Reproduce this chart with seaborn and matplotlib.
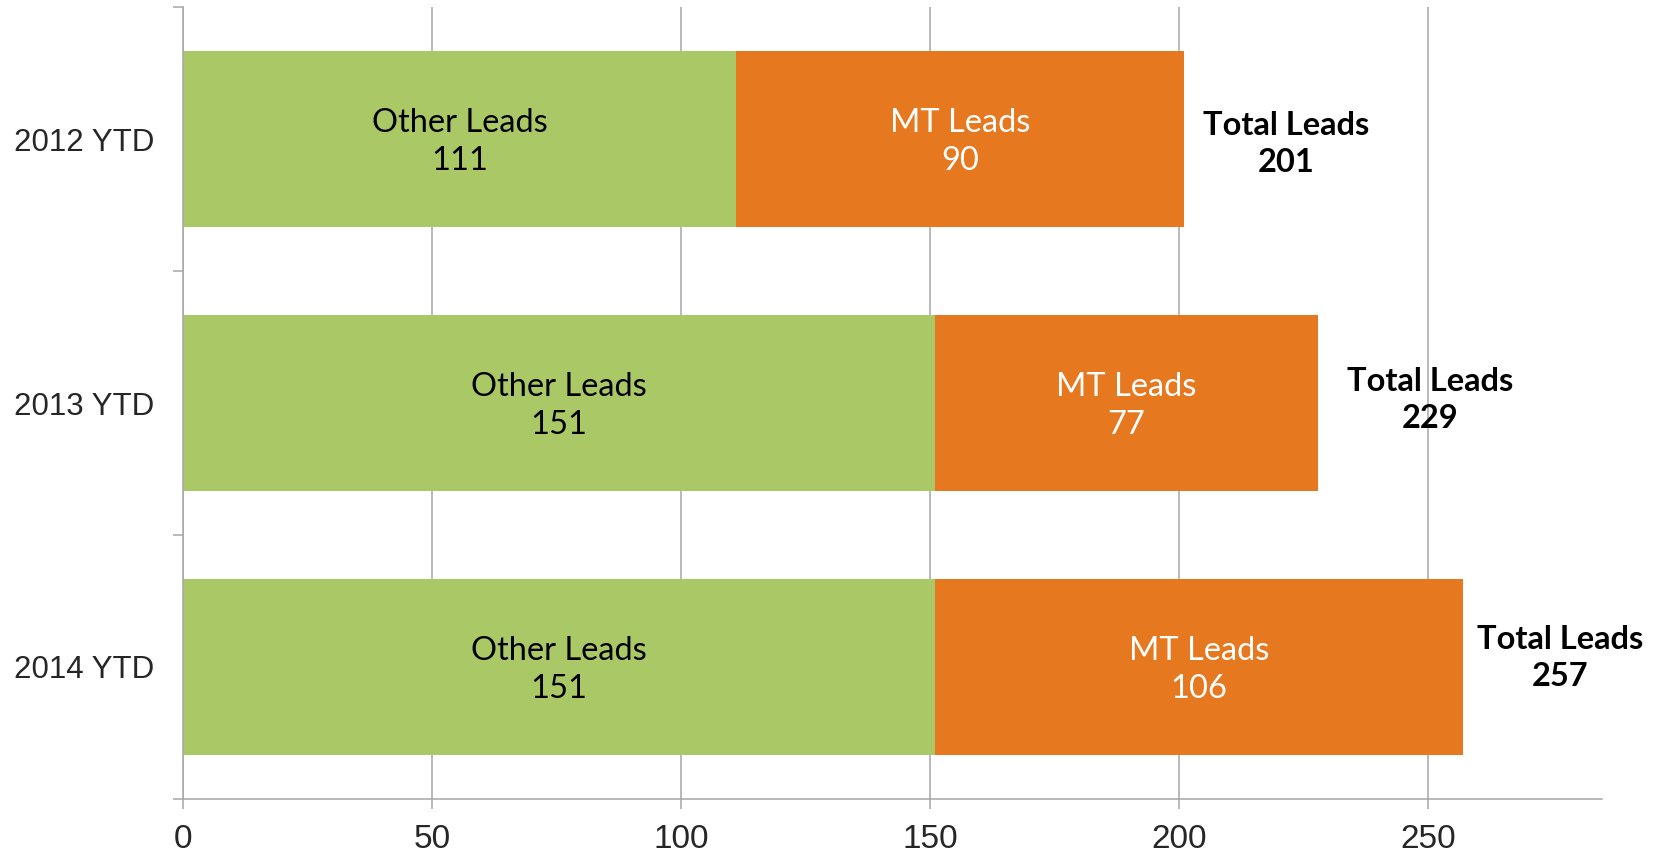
import matplotlib
matplotlib.use("Agg")
import matplotlib.pyplot as plt
import seaborn as sns
import pandas as pd
import numpy as np

# data
categories = ["2012 YTD", "2013 YTD", "2014 YTD"]
other_leads = [111, 151, 151]
mt_leads = [90, 77, 106]
total_leads = [201, 229, 257]  # as labelled in the source (rounded there)
x_ticks = [0, 50, 100, 150, 200, 250]

green = "#ABC866"
orange = "#E67820"
grid_gray = "#A6A6A6"

df = pd.DataFrame({"period": categories, "other": other_leads,
                   "mt": mt_leads, "total": total_leads})
df["stack"] = df["other"] + df["mt"]

sns.set_style("white")
plt.rcParams["font.family"] = ["Lato", "DejaVu Sans"]

fig = plt.figure(figsize=(16.61, 8.55), dpi=100)
ax = fig.add_axes([0.1103, 0.0655, 0.8542, 0.9263])

# stacked bars: full stack in orange, the "other" part on top in green
sns.barplot(data=df, x="stack", y="period", color=orange, saturation=1,
            width=0.667, orient="h", ax=ax, linewidth=0)
sns.barplot(data=df, x="other", y="period", color=green, saturation=1,
            width=0.667, orient="h", ax=ax, linewidth=0)

# the total labels sit a little unevenly in the original
total_dx = [20.5, 22.5, 19.5]
total_dy = [0.02, -0.01, -0.035]

for i, row in df.iterrows():
    ax.text(row["other"] / 2, i + 0.012, f"Other Leads\n{row['other']}",
            ha="center", va="center", fontsize=23.5, color="black",
            linespacing=1.33)
    ax.text(row["other"] + row["mt"] / 2, i + 0.012, f"MT Leads\n{row['mt']}",
            ha="center", va="center", fontsize=23.5, color="white",
            linespacing=1.33)
    ax.text(row["stack"] + total_dx[i], i + total_dy[i],
            f"Total Leads\n{row['total']}",
            ha="center", va="center", fontsize=23.5, color="black",
            fontweight="bold", linespacing=1.33)

ax.set_xlim(0, 285)
ax.set_ylim(2.5, -0.5)
ax.set_xticks(x_ticks)
ax.set_xticklabels([str(t) for t in x_ticks], fontsize=24,
                   family="Liberation Sans")
ax.set_yticks(range(len(categories)))
ax.set_yticklabels(categories, fontsize=22.5, family="Liberation Sans")
ax.set_yticks(np.arange(-0.5, len(categories), 1.0), minor=True)

ax.set_xlabel("")
ax.set_ylabel("")

ax.xaxis.grid(True, color=grid_gray, linewidth=1.1)
ax.yaxis.grid(False)
ax.set_axisbelow(True)

for side in ["top", "right"]:
    ax.spines[side].set_visible(False)
for side in ["left", "bottom"]:
    ax.spines[side].set_color(grid_gray)
    ax.spines[side].set_linewidth(1.1)

ax.tick_params(axis="x", which="major", length=7, width=1.1,
               color=grid_gray, pad=11, bottom=True)
ax.tick_params(axis="y", which="major", length=0, pad=21)
ax.tick_params(axis="y", which="minor", length=7, width=1.1,
               color=grid_gray, left=True)

fig.savefig("out.png", dpi=100)
